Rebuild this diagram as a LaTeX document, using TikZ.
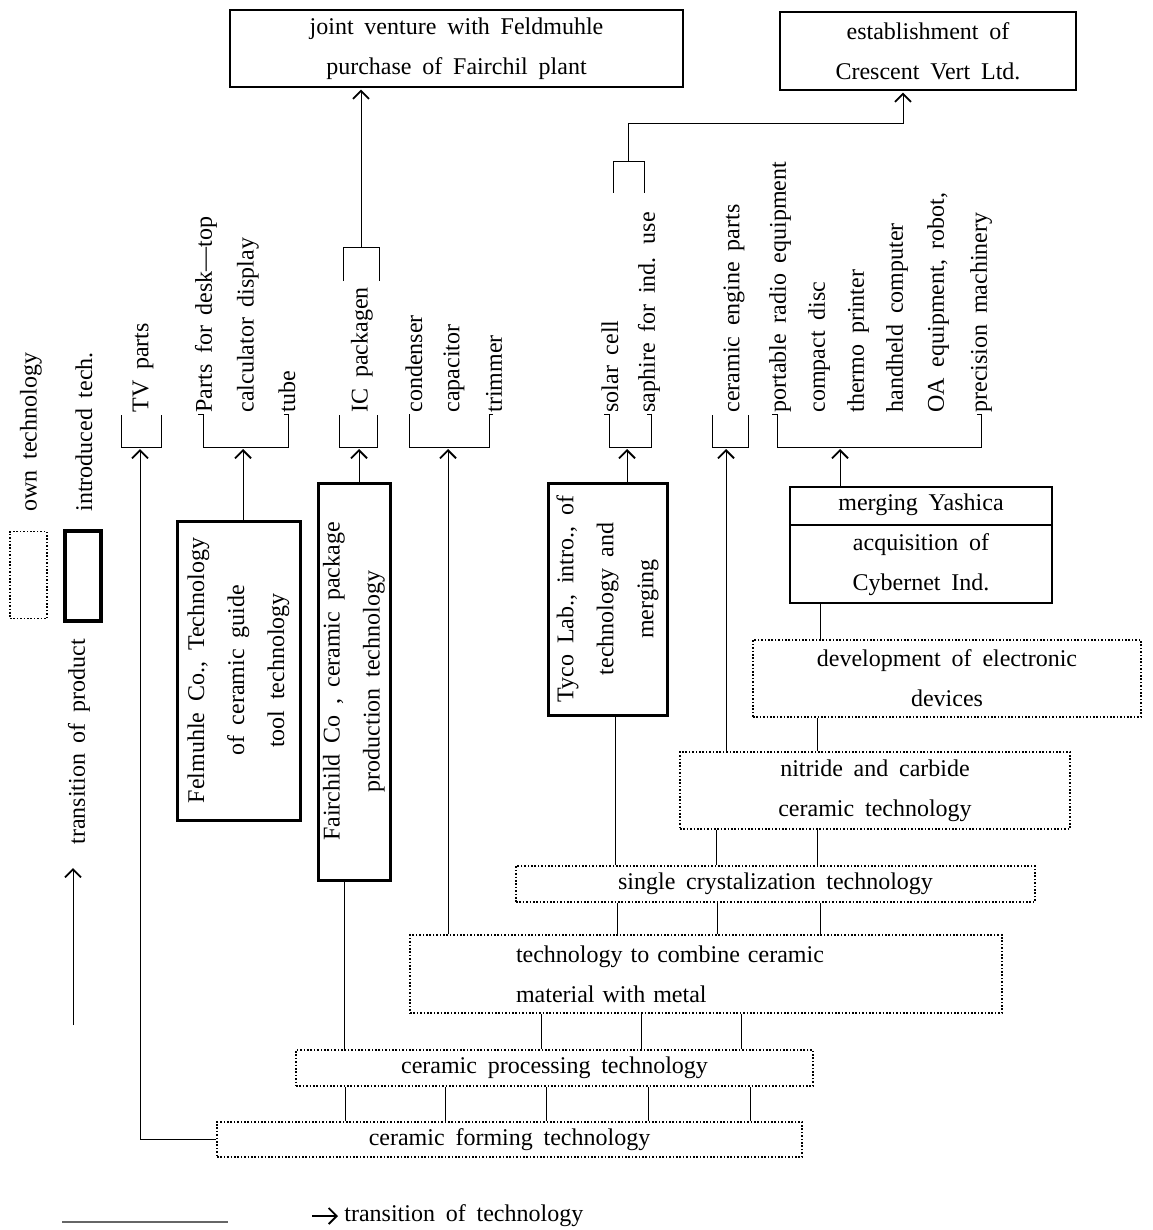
\documentclass[tikz,border=0pt]{standalone}
\usepackage{fontspec}
\setmainfont[WordSpace=1.8]{Liberation Serif}
\usetikzlibrary{arrows.meta}
\begin{document}
\begin{tikzpicture}[x=0.5pt,y=-0.5pt,
  font=\fontsize{12}{20}\selectfont,
  sbox/.style={draw, line width=0.6pt, inner sep=0pt, align=center},
  tbox/.style={draw, line width=1.5pt, inner sep=0pt},
  dbox/.style={draw, line width=0.6pt, dash pattern=on 0.8pt off 0.9pt, inner sep=0pt, align=center},
  rot/.style={rotate=90, anchor=west, inner sep=0pt},
  rotc/.style={rotate=90, align=center, inner sep=0pt},
  ln/.style={line width=0.5pt},
  arr/.style={line width=0.5pt, -{Straight Barb[length=4pt,width=8pt,line width=0.9pt]}, shorten >=1pt}
]
\useasboundingbox (0,0) rectangle (1152,1230);

% ---------- top boxes ----------
\node[sbox, minimum width=226.5pt, minimum height=38.5pt] (A) at (456.5,48.5) {joint venture with Feldmuhle\\purchase of Fairchil plant};
\node[sbox, minimum width=148pt, minimum height=39pt] (B) at (928,51) {establishment of\\Crescent Vert Ltd.};

% ---------- introduced-technology boxes ----------
\node[tbox, minimum width=61.5pt, minimum height=149.5pt] (Fel) at (238.5,670.5) {};
\node[rotc] (FelT) at (Fel.center) {Felmuhle Co., Technology\\of ceramic guide\\tool technology};
\node[tbox, minimum width=36pt, minimum height=198.5pt] (Fai) at (354,681.5) {};
\node[rotc] (FaiT) at (Fai.center) {Fairchild Co , ceramic package\\production technology};
\node[tbox, minimum width=59.5pt, minimum height=116pt] (Ty) at (607.5,599) {};
\node[rotc] (TyT) at (Ty.center) {Tyco Lab., intro., of\\technology and\\merging};

\node[sbox, minimum width=131pt, minimum height=58pt] (Ya) at (921,545) {merging Yashica\\acquisition of\\Cybernet Ind.};
\draw[line width=0.6pt] (Ya.west |- 0,525) -- (Ya.east |- 0,525);

% ---------- own-technology boxes ----------
\node[dbox, minimum width=194pt, minimum height=38.5pt] (Dev) at (947,678.5) {development of electronic\\devices};
\node[dbox, minimum width=195pt, minimum height=38.5pt] (Nit) at (875,790.5) {nitride and carbide\\ceramic technology};
\node[dbox, minimum width=259.5pt, minimum height=18pt] (Sgl) at (775.5,884) {single crystalization technology};
\node[dbox, minimum height=39pt, text width=190pt, inner xsep=53pt, align=left] (Comb) at (706,974) {technology to combine ceramic\\material with metal};
\node[dbox, minimum width=258.5pt, minimum height=18pt] (Proc) at (554.5,1068) {ceramic processing technology};
\node[dbox, minimum width=292.5pt, minimum height=17.5pt] (Form) at (509.5,1139.5) {ceramic forming technology};

% ---------- legend ----------
\node[dbox, minimum width=18.5pt, minimum height=43.5pt] (L1) at (28.5,575) {};
\node[tbox, line width=1.8pt, minimum width=18pt, minimum height=45pt] (L2) at (83,576) {};
\node[rot] (L1t) at (31,512) {own technology};
\node[rot] (L2t) at (84,512) {introduced tech.};
\node[rot] (L3t) at (79,845) {transition of product};
\coordinate (L3a) at (73,1025);
\coordinate (L3b) at (73,866);
\draw[arr] (L3a) -- (L3b);

% ---------- products ----------
\node[rot] (p1) at (143,413) {TV parts};
\node[rot] (p2) at (206,413) {Parts for desk—top};
\node[rot] (p3) at (248,413) {calculator display};
\node[rot] (p4) at (287,413) {tube};
\node[rot] (p5) at (362,413) {IC packagen};
\node[rot] (p6) at (414,413) {condenser};
\node[rot] (p7) at (454,413) {capacitor};
\node[rot] (p8) at (494,413) {trimmer};
\node[rot] (p9) at (610,413) {solar cell};
\node[rot] (p10) at (649,413) {saphire for ind. use};
\node[rot] (p11) at (734,413) {ceramic engine parts};
\node[rot] (p12) at (780,413) {portable radio equipment};
\node[rot] (p13) at (819,413) {compact disc};
\node[rot] (p14) at (858,413) {thermo printer};
\node[rot] (p15) at (897,413) {handheld computer};
\node[rot] (p16) at (938,413) {OA equipment, robot,};
\node[rot] (p17) at (981,413) {precision machinery};

% ---------- brackets ----------
\draw[ln] (121,415) -- (121,447) -- (161,447) -- (161,415);
\coordinate (tvB) at (140,447);
\draw[ln] (198,414) -- (203,414) -- (203,447) -- (288,447) -- (288,414) -- (284,414);
\coordinate (parB) at (243,447);
\draw[ln] (339,415) -- (339,447) -- (377,447) -- (377,415);
\coordinate (icB) at (359,447);
\draw[ln] (343,281) -- (343,247) -- (379,247) -- (379,281);
\coordinate (icT) at (361,247);
\draw[ln] (409,414) -- (409,447) -- (489,447) -- (489,414) -- (493,414);
\coordinate (capB) at (448,447);
\draw[ln] (604,414) -- (609,414) -- (609,447) -- (651,447) -- (651,414) -- (647,414);
\coordinate (solB) at (627,447);
\draw[ln] (613,193) -- (613,162) -- (644,162) -- (644,193);
\coordinate (solT) at (628,162);
\draw[ln] (712,415) -- (712,447) -- (748,447) -- (748,415);
\coordinate (ceB) at (726,447);
\draw[ln] (772,414) -- (777,414) -- (777,447) -- (981,447) -- (981,414) -- (977,414);
\coordinate (porB) at (840,447);
\coordinate (bxT) at (903,124);

% ---------- arrows ----------
\draw[arr] (Form.west) -| (tvB);
\draw[arr] (Fel.north -| parB) -- (parB);
\draw[arr] (Fai.north -| icB) -- (icB);
\draw[arr] (icT) -- (A.south -| icT);
\draw[arr] (Comb.north -| capB) -- (capB);
\draw[arr] (Ty.north -| solB) -- (solB);
\draw[arr] (solT) |- (bxT) -- (B.south -| bxT);
\draw[arr] (Nit.north -| ceB) -- (ceB);
\draw[arr] (Ya.north -| porB) -- (porB);

% ---------- plain connectors ----------
\draw[ln] (Dev.north -| 820,0) -- (Ya.south -| 820,0);
\draw[ln] (Nit.north -| 817,0) -- (Dev.south -| 817,0);
\foreach \x in {817} \draw[ln] (Sgl.north -| \x,0) -- (Nit.south -| \x,0);
\draw[ln] (Sgl.north -| 615,0) -- (Ty.south -| 615,0);
\foreach \x in {617,717,820} \draw[ln] (Comb.north -| \x,0) -- (Sgl.south -| \x,0);
\foreach \x in {541,641,741} \draw[ln] (Proc.north -| \x,0) -- (Comb.south -| \x,0);
\draw[ln] (Proc.north -| 344,0) -- (Fai.south -| 344,0);
\foreach \x in {345,445,546,648,750} \draw[ln] (Form.north -| \x,0) -- (Proc.south -| \x,0);
\draw[ln] (Sgl.north -| 716,0) -- (Nit.south -| 716,0);

% ---------- bottom caption ----------
\coordinate (c1) at (62,1222);
\coordinate (c2) at (228,1222);
\draw[line width=1.2pt, black!60] (c1) -- (c2);
\coordinate (c3) at (312,1216);
\coordinate (c4) at (340,1216);
\draw[arr, line width=0.8pt] (c3) -- (c4);
\node[anchor=west, inner sep=0pt] (cap) at (344,1216) {transition of technology};
\end{tikzpicture}
\end{document}
